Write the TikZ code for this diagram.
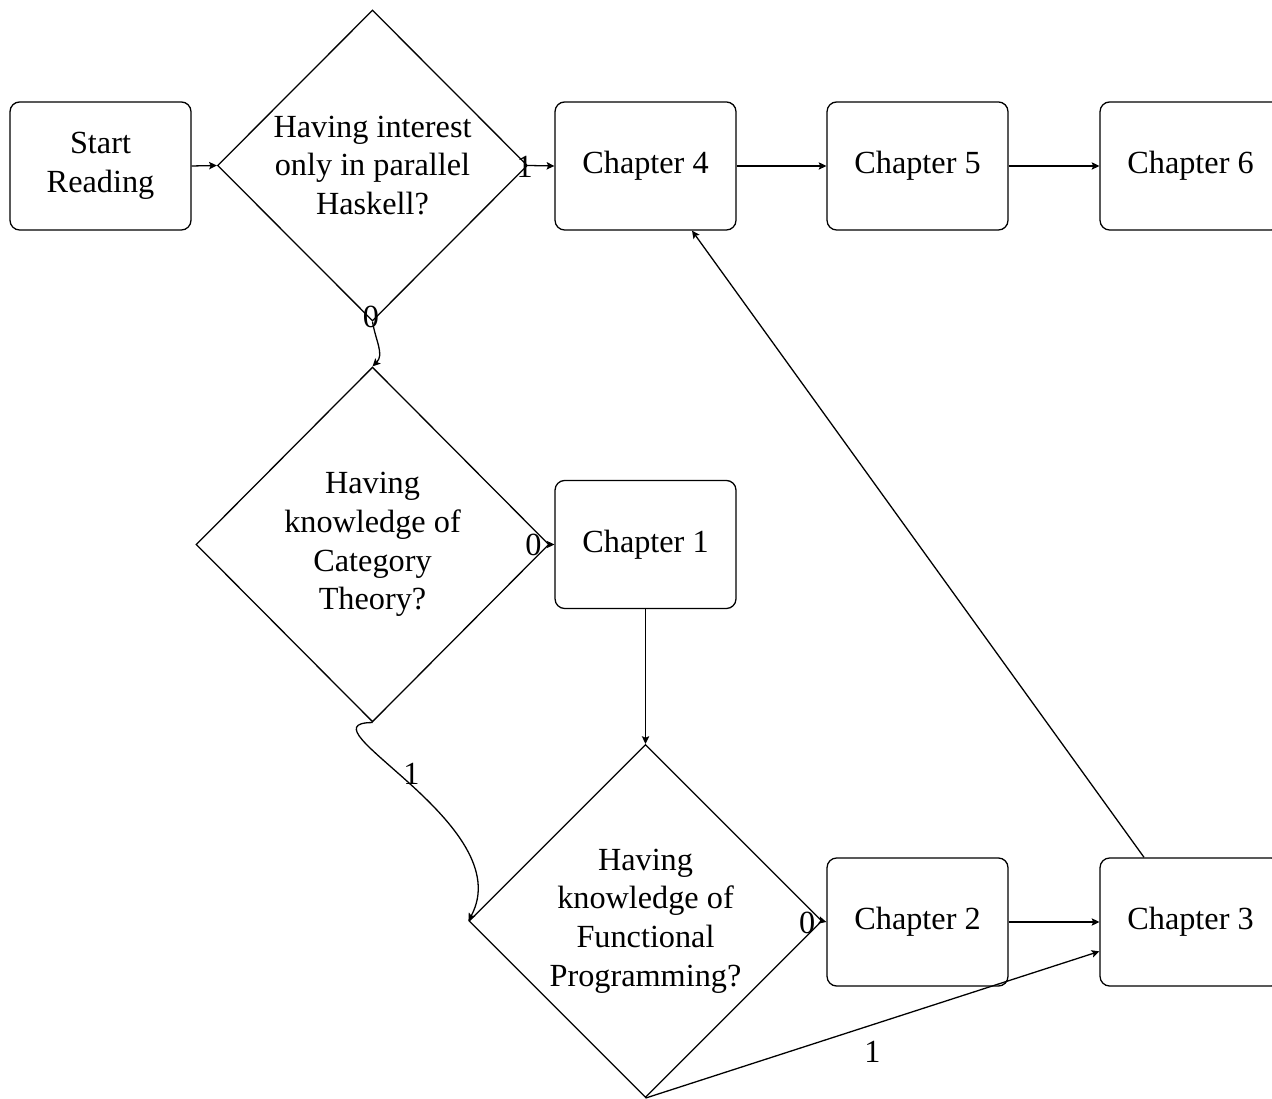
\documentclass[tikz,border=0pt]{standalone}
\usepackage{fontspec}
\setmainfont{Liberation Serif}
\usetikzlibrary{shapes.geometric,arrows.meta}

\tikzset{
  box/.style={draw, rounded corners=3pt, minimum width=56.1pt, minimum height=39.7pt,
              inner sep=0pt, align=center},
  decision/.style={draw, diamond, aspect=1, inner sep=0pt, align=center},
  arr/.style={-{Stealth[length=2.4pt,width=2.3pt,inset=0.5pt]}},
  lbl/.style={inner sep=0pt}
}

\begin{document}
\begin{tikzpicture}[x=0.31pt, y=-0.31pt, line width=0.4pt,
                    font=\fontsize{10}{12}\selectfont]
  \useasboundingbox (0,0) rectangle (1272,1099);

  % process boxes
  \node[box] (start) at (100.5,166) {Start\\Reading};
  \node[box] (c4) at (645.5,166) {Chapter 4};
  \node[box] (c5) at (917.5,166) {Chapter 5};
  \node[box] (c6) at (1190.5,166) {Chapter 6};
  \node[box] (c1) at (645.5,544.5) {Chapter 1};
  \node[box] (c2) at (917.5,922) {Chapter 2};
  \node[box] (c3) at (1190.5,922) {Chapter 3};

  % decisions
  \node[decision, minimum width=96.1pt, minimum height=96.4pt] (d1) at (372.5,165.5)
    {Having interest\\only in parallel\\Haskell?};
  \node[decision, minimum width=109.4pt, minimum height=110pt] (d2) at (372.5,544.5)
    {Having\\knowledge of\\Category\\Theory?};
  \node[decision, minimum width=109.4pt, minimum height=109.4pt] (d3) at (645.5,921)
    {Having\\knowledge of\\Functional\\Programming?};

  % flow
  \draw[arr] (start.east) -- (d1.west);
  \draw[arr] (d1.east) -- node[lbl, at start, xshift=-1.1pt, yshift=-0.3pt] {1} (c4.west);
  \draw[arr] (c4) -- (c5);
  \draw[arr] (c5) -- (c6);
  \draw[arr] (d1.south) .. controls +(3,19) and +(12,-12) ..
    node[lbl, at start, xshift=-0.5pt, yshift=1.5pt] {0} (d2.north);
  \draw[arr] (d2.east) -- node[lbl, at start, xshift=-5pt] {0} (c1.west);
  \draw[arr] (d2.south) .. controls +(-77,0) and +(52,-96) .. (d3.west);
  \path (d2.south) -- (d3.west) node[lbl] (one) at (411.5,773.5) {1};
  \draw[arr] (c1.south) -- (d3.north);
  \draw[arr] (d3.east) -- node[lbl, at start, xshift=-4.8pt, yshift=-0.6pt] {0} (c2.west);
  \draw[arr] (c2) -- (c3);
  \draw[arr] (d3.south) -- node[midway, below=1.7pt] {1} (c3);
  \draw[arr] (c3) -- (c4);
\end{tikzpicture}
\end{document}
